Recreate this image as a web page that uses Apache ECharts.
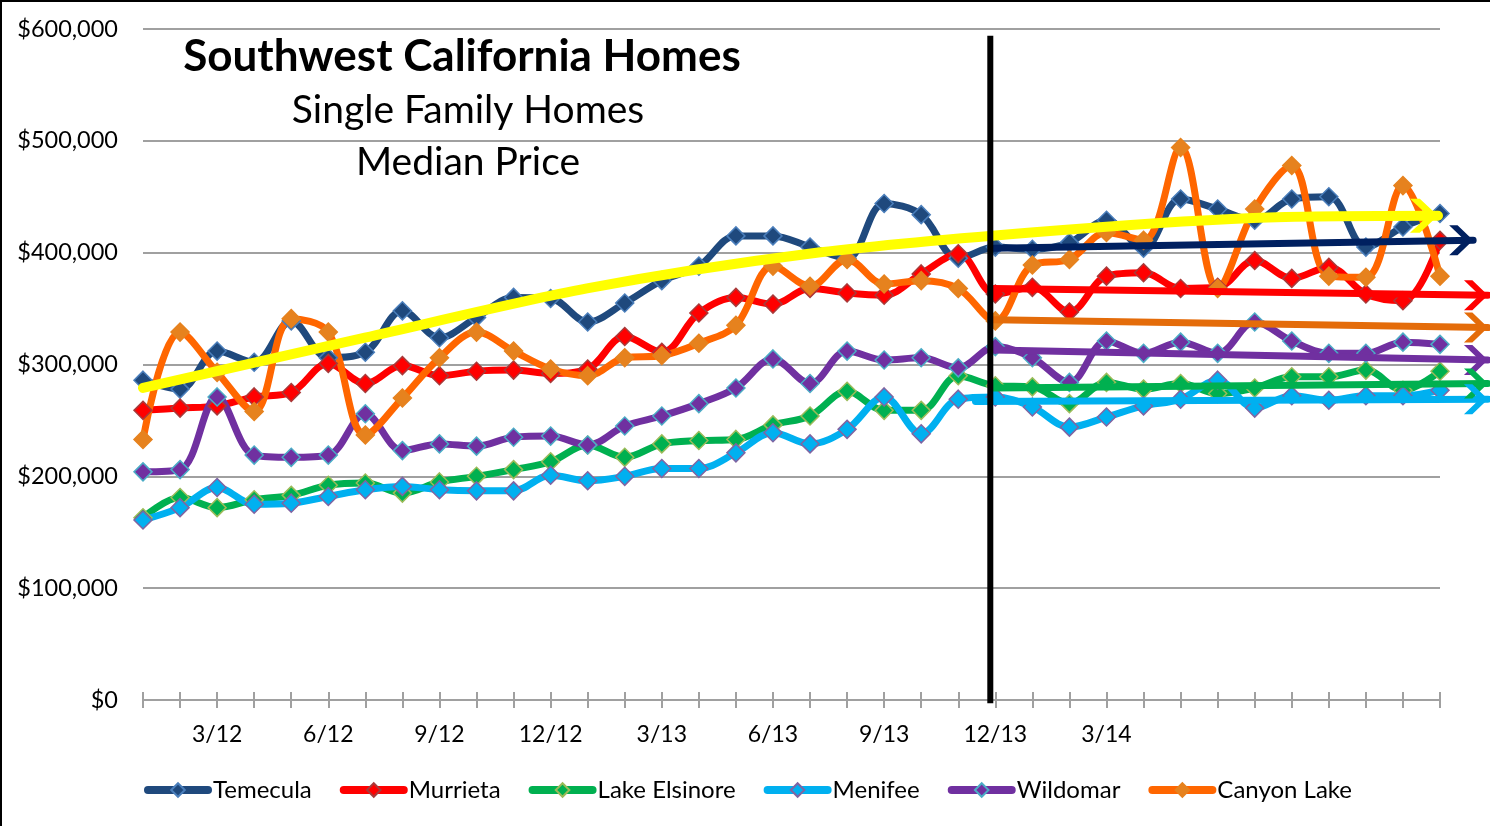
<!doctype html>
<html lang="en">
<head>
    <meta charset="utf-8"/>
    <title>Southwest California Homes</title>
    <style>
        html, body { margin: 0; padding: 0; background: #fff; }
        #chart { width: 1490px; height: 826px; }
    </style>
</head>
<body>
<div id="chart"></div>
<script src="https://cdn.jsdelivr.net/npm/echarts@6/dist/echarts.min.js"></script>
<script>
    // median prices, in $ thousands
    const months = [
        '1/12', '2/12', '3/12', '4/12', '5/12', '6/12', '7/12', '8/12', '9/12', '10/12', '11/12', '12/12',
        '1/13', '2/13', '3/13', '4/13', '5/13', '6/13', '7/13', '8/13', '9/13', '10/13', '11/13', '12/13',
        '1/14', '2/14', '3/14', '4/14', '5/14', '6/14', '7/14', '8/14', '9/14', '10/14', '11/14', '12/14'
    ];
    const tickLabels = ['3/12', '6/12', '9/12', '12/12', '3/13', '6/13', '9/13', '12/13', '3/14'];

    const temecula = [286, 278, 312, 302, 339, 306, 311, 348, 324, 342, 360, 359,
        338, 355, 375, 388, 415, 415, 405, 395, 444, 434, 395, 405,
        403, 409, 429, 404, 448, 439, 429, 448, 450, 405, 423, 435];
    const murrieta = [259, 261, 263, 271, 275, 301, 283, 299, 290, 294, 295, 292,
        296, 325, 311, 346, 360, 354, 368, 364, 362, 381, 399, 363,
        369, 347, 379, 382, 368, 369, 393, 377, 387, 363, 357, 411];
    const lakeElsinore = [163, 181, 172, 179, 183, 192, 194, 185, 195, 200, 206, 213,
        228, 217, 229, 232, 233, 246, 254, 276, 259, 259, 290, 281,
        280, 265, 284, 278, 283, 274, 279, 289, 289, 295, 277, 294];
    const menifee = [161, 172, 190, 175, 176, 182, 188, 191, 188, 187, 187, 201,
        196, 200, 207, 207, 221, 239, 229, 242, 271, 238, 269, 271,
        262, 244, 253, 263, 269, 286, 261, 272, 268, 272, 272, 277];
    const wildomar = [204, 206, 271, 219, 217, 219, 256, 223, 229, 227, 235, 236,
        228, 245, 254, 265, 279, 305, 283, 312, 304, 306, 297, 316,
        306, 284, 321, 310, 320, 310, 338, 321, 310, 310, 320, 318];
    const canyonLake = [233, 329, 293, 258, 341, 329, 237, 270, 306, 329, 312, 296,
        290, 306, 308, 319, 335, 388, 370, 394, 372, 375, 368, 339,
        389, 394, 418, 411, 494, 368, 439, 478, 379, 378, 460, 379];

    // trend arrows: [month index, value]
    const overallTrend = [[0, 279], [6, 324], [12, 368], [18, 399], [24, 418], [30, 431], [35, 433]];
    const temeculaTrend = [[23, 404], [35.95, 411]];
    const murrietaTrend = [[23, 368], [36.35, 362]];
    const canyonTrend = [[23, 340], [36.35, 333]];
    const wildomarTrend = [[23, 313], [36.35, 304]];
    const elsinoreTrend = [[23, 279], [36.35, 283]];
    const menifeeTrend = [[22.5, 267], [36.35, 269]];
    const divider = [[22.9, 594], [22.9, -3]];

    const font = 'Lato';
    const gray = '#A0A0A0';
    const chevron = 'path://M0,0 L7,0 L20,14 L7,28 L0,28 L13,14 Z';

    function priceSeries(name, data, line, fill, border) {
        return {
            name: name,
            type: 'line',
            data: data,
            smooth: 0.35,
            symbol: 'diamond',
            symbolSize: 18,
            lineStyle: {color: line, width: 7},
            itemStyle: {color: fill, borderColor: border, borderWidth: 1.5},
            emphasis: {disabled: true}
        };
    }

    function trendSeries(pts, color, width, head, smooth) {
        return {
            type: 'line',
            xAxisIndex: 2,
            yAxisIndex: 1,
            data: pts.map(function (p, i) {
                if (i === pts.length - 1) {
                    return {value: p, symbol: chevron, symbolSize: head, symbolOffset: [-head[0] / 2, 0]};
                }
                return {value: p, symbol: 'none'};
            }),
            showSymbol: true,
            symbol: 'none',
            smooth: smooth || false,
            clip: false,
            z: 5,
            silent: true,
            lineStyle: {color: color, width: width, cap: 'round'},
            itemStyle: {color: color, borderWidth: 0},
            emphasis: {disabled: true}
        };
    }

    const chart = echarts.init(document.getElementById('chart'));

    const option = {
        animation: false,
        backgroundColor: '#fff',
        grid: [
            {left: 143, right: 50, top: 29, bottom: 126, outerBoundsMode: 'none'},
            // same scale, reaching to the right edge for the arrows
            {left: 143, right: 0, top: 29, bottom: 126, outerBoundsMode: 'none'}
        ],
        legend: {
            data: ['Temecula', 'Murrieta', 'Lake Elsinore', 'Menifee', 'Wildomar', 'Canyon Lake'],
            left: 139,
            top: 773,
            itemWidth: 60,
            itemHeight: 17,
            itemGap: 28,
            lineStyle: {width: 8, cap: 'round'},
            textStyle: {fontFamily: font, fontSize: 24, color: '#000'},
            selectedMode: false
        },
        xAxis: [
            {
                type: 'category',
                gridIndex: 0,
                data: months,
                boundaryGap: false,
                axisLine: {lineStyle: {color: gray, width: 2}},
                axisTick: {show: true, interval: 0, length: 8, lineStyle: {color: gray, width: 2}},
                axisLabel: {
                    interval: function (i, v) { return tickLabels.indexOf(v) >= 0; },
                    margin: 23,
                    fontFamily: font,
                    fontSize: 23,
                    color: '#000'
                },
                splitLine: {show: false}
            },
            {
                type: 'value',
                gridIndex: 0,
                min: 0,
                max: 35,
                interval: 1,
                position: 'bottom',
                axisLine: {show: false},
                axisLabel: {show: false},
                axisTick: {show: true, inside: true, length: 8, lineStyle: {color: gray, width: 2}},
                splitLine: {show: false}
            },
            {
                type: 'value',
                gridIndex: 1,
                min: 0,
                max: (1490 - 143) / 37,
                show: false
            }
        ],
        yAxis: [
            {
                type: 'value',
                gridIndex: 0,
                min: 0,
                max: 600,
                interval: 100,
                axisLine: {show: false},
                axisTick: {show: false},
                axisLabel: {
                    margin: 25,
                    fontFamily: font,
                    fontSize: 23.5,
                    color: '#000',
                    formatter: function (v) { return v === 0 ? '$0' : '$' + (v * 1000).toLocaleString('en-US'); }
                },
                splitLine: {lineStyle: {color: gray, width: 2}}
            },
            {
                type: 'value',
                gridIndex: 1,
                min: 0,
                max: 600,
                show: false
            }
        ],
        series: [
            priceSeries('Temecula', temecula, '#1F497D', '#1F497D', '#4A7EBB'),
            priceSeries('Murrieta', murrieta, '#FF0000', '#FF0000', '#A83A3A'),
            priceSeries('Lake Elsinore', lakeElsinore, '#00B050', '#00B050', '#9BBB59'),
            priceSeries('Menifee', menifee, '#00B0F0', '#00B0F0', '#8064A2'),
            priceSeries('Wildomar', wildomar, '#7030A0', '#7030A0', '#4BACC6'),
            priceSeries('Canyon Lake', canyonLake, '#FF6600', '#E6821E', '#E6821E'),
            trendSeries(overallTrend, '#FFFF00', 10, [28, 34], 0.3),
            trendSeries(temeculaTrend, '#002060', 7, [24, 30]),
            trendSeries(murrietaTrend, '#FF0000', 7, [24, 30]),
            trendSeries(canyonTrend, '#E46C0A', 7, [24, 30]),
            trendSeries(wildomarTrend, '#7030A0', 7, [24, 30]),
            trendSeries(elsinoreTrend, '#00B050', 7, [24, 30]),
            trendSeries(menifeeTrend, '#00B0F0', 7, [24, 30]),
            {
                type: 'line',
                xAxisIndex: 2,
                yAxisIndex: 1,
                data: divider,
                symbol: 'none',
                clip: false,
                z: 6,
                silent: true,
                lineStyle: {color: '#000', width: 6}
            }
        ],
        graphic: [
            {type: 'line', shape: {x1: 1, y1: 0, x2: 1, y2: 826}, style: {stroke: '#000', lineWidth: 2}},
            {type: 'line', shape: {x1: 0, y1: 1, x2: 1490, y2: 1}, style: {stroke: '#000', lineWidth: 2}},
            {
                type: 'text', x: 462, y: 57, z: 10,
                style: {text: 'Southwest California Homes', font: 'bold 44px Lato', fill: '#000', align: 'center', verticalAlign: 'middle'}
            },
            {
                type: 'text', x: 468, y: 110, z: 10,
                style: {text: 'Single Family Homes', font: '39px Lato', fill: '#000', align: 'center', verticalAlign: 'middle'}
            },
            {
                type: 'text', x: 468, y: 162, z: 10,
                style: {text: 'Median Price', font: '39px Lato', fill: '#000', align: 'center', verticalAlign: 'middle'}
            }
        ]
    };
    chart.setOption(option);

    window.onresize = function () {
        chart.resize();
    };
</script>
</body>
</html>
